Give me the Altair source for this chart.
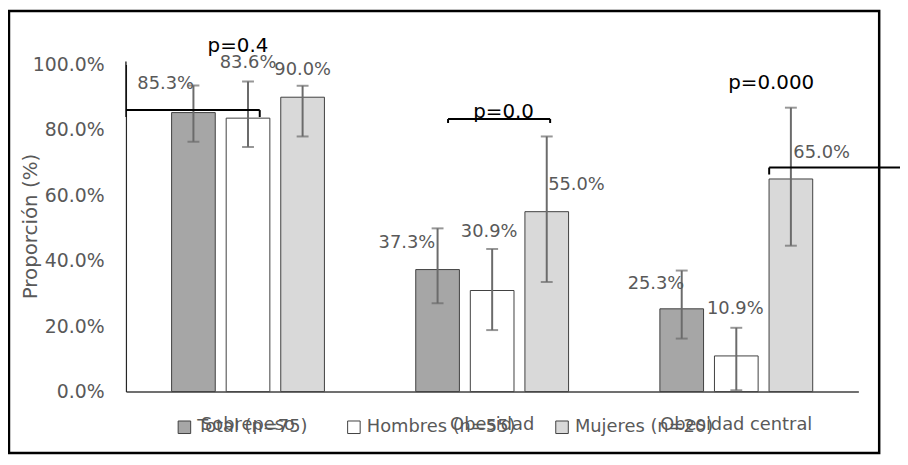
import altair as alt
import pandas as pd

# ---------------- data ----------------
categories = ["Sobrepeso", "Obesidad", "Obesidad central"]
groups = ["Total (n=75)", "Hombres (n=55)", "Mujeres (n=20)"]
total_vals = [85.3, 37.3, 25.3]
hombres_vals = [83.6, 30.9, 10.9]
mujeres_vals = [90.0, 55.0, 65.0]
total_lo = [76.4, 27.0, 16.2]
total_hi = [93.6, 49.9, 37.0]
hombres_lo = [74.8, 18.8, 0.4]
hombres_hi = [94.8, 43.6, 19.5]
mujeres_lo = [78.0, 33.5, 44.6]
mujeres_hi = [93.5, 78.0, 86.8]
p_labels = ["p=0.4", "p=0.0", "p=0.000"]
y_ticks = [0, 20, 40, 60, 80, 100]
bar_colors = ["#a6a6a6", "#ffffff", "#d9d9d9"]

# label nudges (pixels) relative to the top centre of each bar
label_nudge = {
    "Total (n=75)": [(-28, -29), (-31, -27), (-26, -24.5)],
    "Hombres (n=55)": [(0, -56), (-3, -59), (-1, -47)],
    "Mujeres (n=20)": [(0, -27.5), (30, -26.5), (31, -26.5)],
}

rows = []
for g, vals, lo, hi in [
    (groups[0], total_vals, total_lo, total_hi),
    (groups[1], hombres_vals, hombres_lo, hombres_hi),
    (groups[2], mujeres_vals, mujeres_lo, mujeres_hi),
]:
    for c, v, l, h in zip(categories, vals, lo, hi):
        rows.append({"cat": c, "grp": g, "val": v, "lo": l, "hi": h,
                     "label": f"{v:.1f}%"})
df = pd.DataFrame(rows)

FONT = "DejaVu Sans"
GRAY_TXT = "#595959"
W, H = 739, 330

x_enc = alt.X("cat:N", sort=categories,
              scale=alt.Scale(domain=categories, paddingInner=0.374, paddingOuter=0.187),
              axis=alt.Axis(title=None, labelAngle=0, labelFontSize=18, labelColor=GRAY_TXT,
                            labelFont=FONT, ticks=False, tickSize=0, labelPadding=33,
                            labelBaseline="middle", domainColor="#404040", domainWidth=1.5))
xo_enc = alt.XOffset("grp:N", sort=groups,
                     scale=alt.Scale(domain=groups, paddingInner=0.2, paddingOuter=0))
y_enc = alt.Y("val:Q",
              scale=alt.Scale(domain=[0, 100], nice=False, zero=True),
              axis=alt.Axis(values=y_ticks, labelExpr="format(datum.value, '.1f') + '%'",
                            title="Proporción (%)", titleFontSize=20, titleColor=GRAY_TXT,
                            titleFontWeight="normal", titleFont=FONT, titleAngle=270,
                            titleX=-96, titleY=163, titleAlign="center", titleBaseline="middle",
                            labelFontSize=19, labelColor=GRAY_TXT, labelFont=FONT,
                            ticks=False, tickSize=0, labelPadding=22, grid=False,
                            domainColor="#262626", domainWidth=1.2))

base = alt.Chart(df)

bars = base.mark_bar(stroke="#404040", strokeWidth=1).encode(
    x=x_enc, xOffset=xo_enc, y=y_enc,
    fill=alt.Fill("grp:N", sort=groups,
                  scale=alt.Scale(domain=groups, range=bar_colors),
                  legend=alt.Legend(orient="none", legendX=50, legendY=357,
                                    direction="horizontal", title=None,
                                    symbolType="square", symbolSize=160,
                                    symbolStrokeColor="#404040", symbolStrokeWidth=1,
                                    labelFontSize=18, labelColor=GRAY_TXT, labelFont=FONT,
                                    columnPadding=37, padding=0, labelOffset=4)),
)

err_rule = base.mark_rule(color="#6b6b6b", strokeWidth=2).encode(
    x=alt.X("cat:N", sort=categories), xOffset=alt.XOffset("grp:N", sort=groups),
    y="lo:Q", y2="hi:Q")
err_cap_lo = base.mark_tick(color="#6b6b6b", thickness=2, size=12).encode(
    x=alt.X("cat:N", sort=categories), xOffset=alt.XOffset("grp:N", sort=groups),
    y="lo:Q")
err_cap_hi = base.mark_tick(color="#6b6b6b", thickness=2, size=12).encode(
    x=alt.X("cat:N", sort=categories), xOffset=alt.XOffset("grp:N", sort=groups),
    y="hi:Q")

layers = [bars, err_rule, err_cap_lo, err_cap_hi]

for g in groups:
    for i, c in enumerate(categories):
        dx, dy = label_nudge[g][i]
        layers.append(
            base.transform_filter(
                (alt.datum.grp == g) & (alt.datum.cat == c)
            ).mark_text(font=FONT, fontSize=18, color=GRAY_TXT, align="center",
                        baseline="middle", dx=dx, dy=dy).encode(
                x=alt.X("cat:N", sort=categories),
                xOffset=alt.XOffset("grp:N", sort=groups),
                y="val:Q", text="label:N")
        )

one = alt.Data(values=[{"a": 1}])

def rule(x1, x2, y1, y2, w=2):
    return alt.Chart(one).mark_rule(color="black", strokeWidth=w).encode(
        x=alt.value(x1), x2=alt.value(x2), y=alt.value(y1), y2=alt.value(y2))

# significance brackets (annotation layout, pixels in plot space)
brackets = [
    rule(0, 135, 46, 46), rule(135, 135, 46, 53), rule(0, 0, -3, 53, 1.2),
    rule(325, 428, 55, 55), rule(325, 325, 55, 59), rule(428, 428, 55, 59),
    rule(649, 790, 104, 104), rule(649, 649, 104, 111),
]
layers += brackets

p_pos = [(113, -13), (381, 54), (651, 25)]
for txt, (px, py) in zip(p_labels, p_pos):
    layers.append(
        alt.Chart(one).mark_text(font=FONT, fontSize=20, color="black", align="center",
                                 baseline="alphabetic", text=txt).encode(
            x=alt.value(px), y=alt.value(py))
    )

# outer frame
frame = alt.Chart(one).mark_rect(filled=False, stroke="black", strokeWidth=2.5).encode(
    x=alt.value(-118), x2=alt.value(760), y=alt.value(-54), y2=alt.value(392))
layers.append(frame)

chart = alt.layer(*layers).properties(
    width=W, height=H,
    autosize=alt.AutoSizeParams(type="none"),
    padding={"left": 119, "top": 55, "right": 42, "bottom": 64},
    background="white",
).configure(font=FONT).configure_view(stroke="transparent", strokeWidth=0)

chart.save("out.html", embed_options={"renderer": "svg", "actions": False})
